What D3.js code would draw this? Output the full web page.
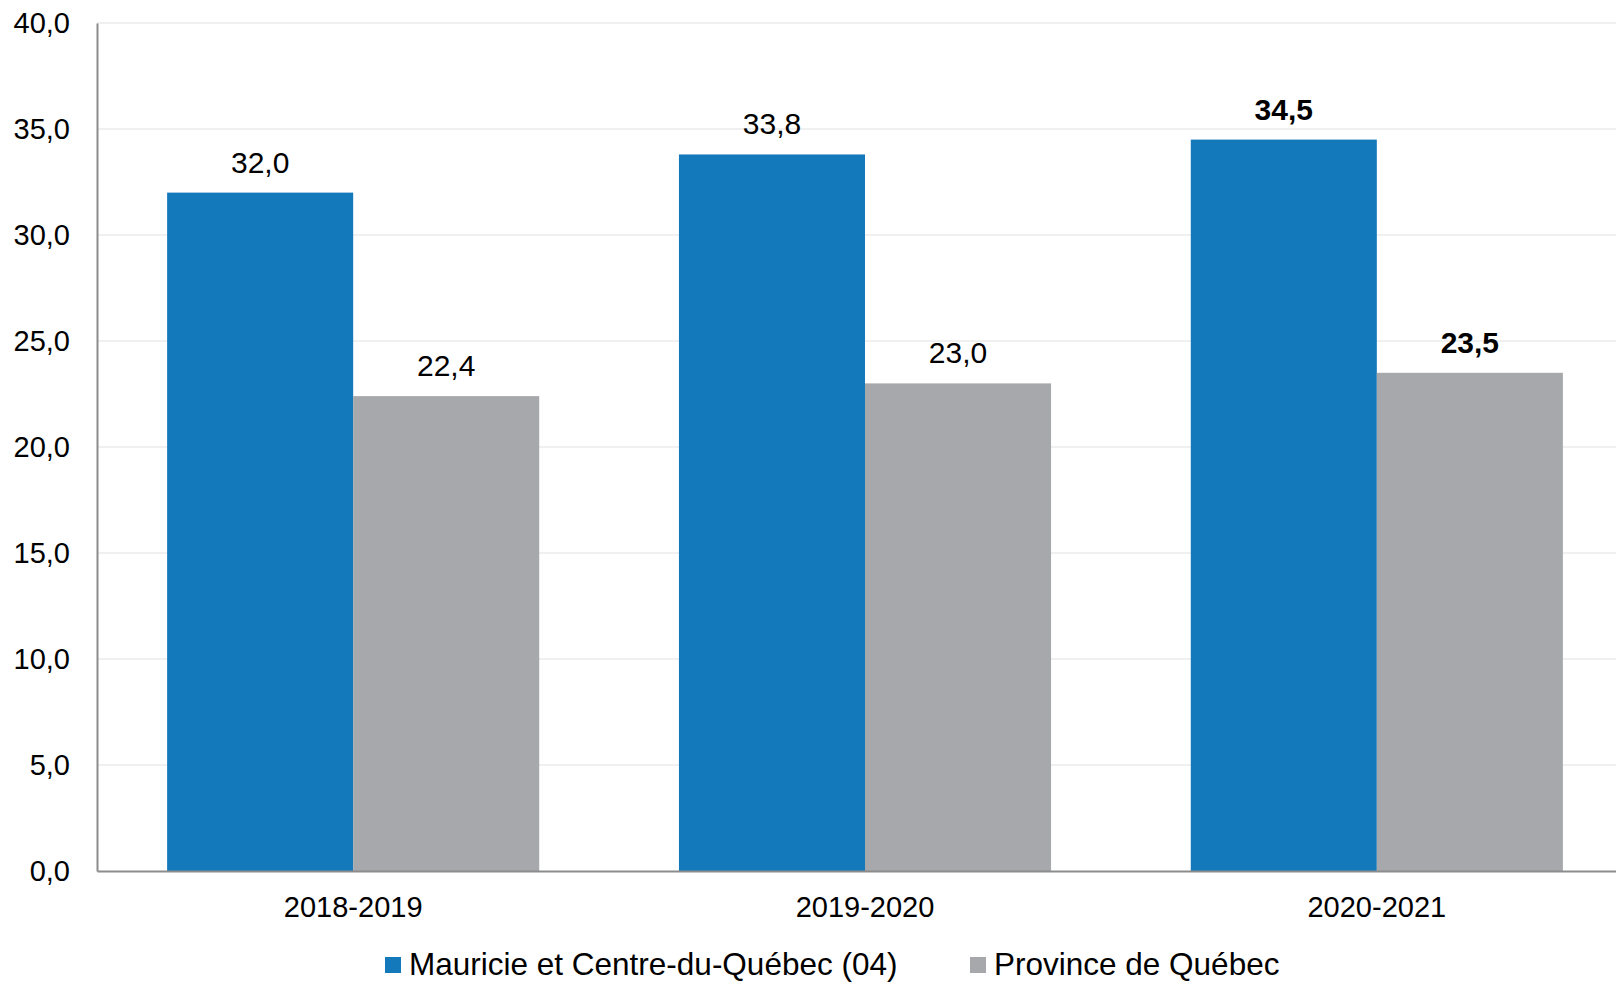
<!DOCTYPE html>
<html><head><meta charset="utf-8">
<script src="https://cdn.jsdelivr.net/npm/d3@7"></script>
<style>
html,body{margin:0;padding:0;background:#fff;overflow:hidden}
svg{display:block;font-family:"Liberation Sans",Arial,sans-serif}
</style></head>
<body>
<svg id="chart" width="1616" height="983"></svg>
<script>
const categories = ["2018-2019", "2019-2020", "2020-2021"];
const seriesNames = ["Mauricie et Centre-du-Québec (04)", "Province de Québec"];
const mauricie = [32.0, 33.8, 34.5];
const province = [22.4, 23.0, 23.5];
const yTicks = [0, 5, 10, 15, 20, 25, 30, 35, 40];
const boldCategory = "2020-2021";
const colors = ["#1479bb", "#a7a8ab"];

const svg = d3.select("#chart");
const m = {left: 97, top: 23, right: -17, bottom: 112};
const W = 1616, H = 983;
const x0 = d3.scaleBand().domain(categories).range([m.left, W - m.right]).paddingInner(0.273).paddingOuter(0.137);
const x1 = d3.scaleBand().domain(seriesNames).range([0, x0.bandwidth()]);
const y = d3.scaleLinear().domain([0, 40]).range([H - m.bottom, m.top]);
const fmt = v => d3.format(".1f")(v).replace(".", ",");

// gridlines
svg.append("g").selectAll("line").data(yTicks.filter(d => d > 0)).join("line")
  .attr("x1", m.left).attr("x2", W).attr("y1", d => y(d)).attr("y2", d => y(d))
  .attr("stroke", "#ebebeb").attr("stroke-width", 1.5);

const data = categories.map((c, i) => ({cat: c, vals: [mauricie[i], province[i]]}));
const g = svg.append("g").selectAll("g").data(data).join("g")
  .attr("transform", d => `translate(${x0(d.cat)},0)`);
g.selectAll("rect").data(d => d.vals.map((v, j) => ({v, s: seriesNames[j], j}))).join("rect")
  .attr("x", d => x1(d.s)).attr("width", x1.bandwidth())
  .attr("y", d => y(d.v)).attr("height", d => y(0) - y(d.v))
  .attr("fill", d => colors[d.j]);
g.selectAll("text").data(d => d.vals.map((v, j) => ({v, s: seriesNames[j], cat: d.cat}))).join("text")
  .attr("x", d => x1(d.s) + x1.bandwidth() / 2).attr("y", d => y(d.v) - 20)
  .attr("text-anchor", "middle").attr("font-size", 30)
  .attr("font-weight", d => d.cat === boldCategory ? "bold" : "normal")
  .attr("fill", "#000").text(d => fmt(d.v));

// y axis
const yAxis = svg.append("g").attr("transform", `translate(${m.left},0)`)
  .call(d3.axisLeft(y).tickValues(yTicks).tickFormat(fmt).tickSize(0).tickPadding(27));
yAxis.select(".domain").attr("stroke", "#8c8c8c").attr("stroke-width", 2);
yAxis.selectAll("text").attr("font-size", 29).attr("fill", "#000").attr("font-family", "Liberation Sans, Arial, sans-serif");

// x axis
const xAxis = svg.append("g").attr("transform", `translate(0,${y(0)})`)
  .call(d3.axisBottom(x0).tickSize(0).tickPadding(25));
xAxis.select(".domain").attr("stroke", "#8c8c8c").attr("stroke-width", 2);
xAxis.selectAll("text").attr("font-size", 29).attr("fill", "#000").attr("font-family", "Liberation Sans, Arial, sans-serif");

// legend
const legend = svg.append("g");
const legX = [385, 970];
seriesNames.forEach((s, i) => {
  legend.append("rect").attr("x", legX[i]).attr("y", 957).attr("width", 16).attr("height", 16).attr("fill", colors[i]);
  legend.append("text").attr("x", legX[i] + 24).attr("y", 975).attr("font-size", 31.5).attr("fill", "#000").text(s);
});
</script>
</body></html>
